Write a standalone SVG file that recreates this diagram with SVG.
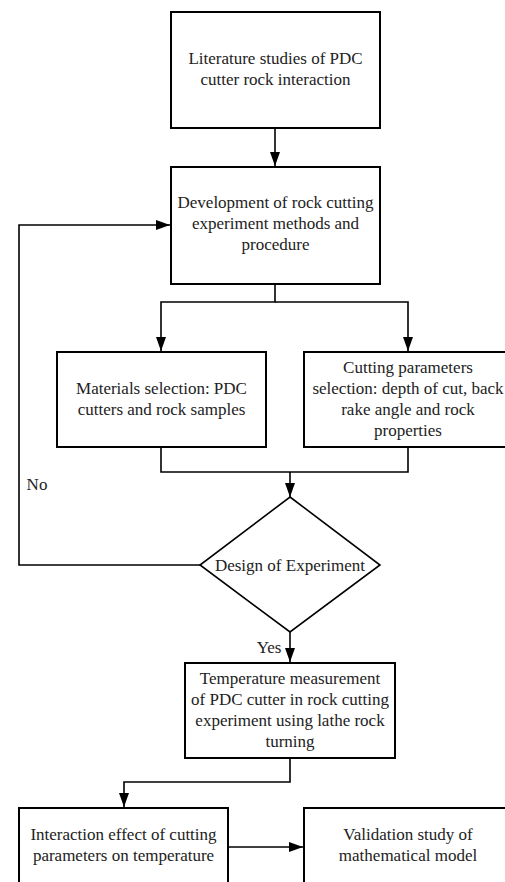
<svg xmlns="http://www.w3.org/2000/svg" width="505" height="882" viewBox="0 0 505 882">
<defs>
<marker id="ah" viewBox="0 0 14 10" markerWidth="14" markerHeight="10" refX="14" refY="5" markerUnits="userSpaceOnUse" orient="auto">
<path d="M0,0 L14,5 L0,10 z" fill="#000"/>
</marker>
<style>
.box{fill:#fff;stroke:#000;stroke-width:2}
.t{font-family:'Liberation Serif','DejaVu Serif',serif;font-size:17px;fill:#222;text-anchor:middle}
.c{fill:none;stroke:#000;stroke-width:1.6}
.ca{fill:none;stroke:#000;stroke-width:1.6;marker-end:url(#ah)}
</style>
</defs>
<rect width="505" height="882" fill="#fff"/>
<g id="connectors">
<path class="ca" d="M275,128 V166"/>
<path class="ca" d="M200,565 H19 V225 H170"/>
<path class="ca" d="M275,284 V302 H161 V351"/>
<path class="ca" d="M275,302 H408 V351"/>
<path class="c" d="M161,447 V472 H408 V447"/>
<path class="ca" d="M290,472 V497"/>
<path class="ca" d="M290,632 V662"/>
<path class="ca" d="M290,758 V782 H124 V807"/>
<path class="ca" d="M228,847 H303"/>
<text class="t" x="37" y="490">No</text>
<text class="t" x="269" y="653">Yes</text>
</g>
<g id="n1">
<rect class="box" x="171" y="12" width="209" height="116"/>
<text class="t" x="275.5" y="63.5">Literature studies of PDC</text>
<text class="t" x="275.5" y="84.5">cutter rock interaction</text>
</g>
<g id="n2">
<rect class="box" x="171" y="167" width="209" height="117"/>
<text class="t" x="275.5" y="207.5">Development of rock cutting</text>
<text class="t" x="275.5" y="228.5">experiment methods and</text>
<text class="t" x="275.5" y="249.5">procedure</text>
</g>
<g id="n3">
<rect class="box" x="57" y="352" width="209" height="95"/>
<text class="t" x="161.5" y="393.5">Materials selection: PDC</text>
<text class="t" x="161.5" y="414.5">cutters and rock samples</text>
</g>
<g id="n4">
<rect class="box" x="304" y="352" width="215" height="95"/>
<text class="t" x="408" y="372.5">Cutting parameters</text>
<text class="t" x="408" y="393.5">selection: depth of cut, back</text>
<text class="t" x="408" y="414.5">rake angle and rock</text>
<text class="t" x="408" y="435.5">properties</text>
</g>
<g id="n5">
<path d="M290,497 L380,565 L290,632 L200,565 Z" fill="#fff" stroke="#000" stroke-width="1.6"/>
<text class="t" x="290" y="570.5">Design of Experiment</text>
</g>
<g id="n6">
<rect class="box" x="185" y="663" width="210" height="95"/>
<text class="t" x="290" y="683.5">Temperature measurement</text>
<text class="t" x="290" y="704.5">of PDC cutter in rock cutting</text>
<text class="t" x="290" y="725.5">experiment using lathe rock</text>
<text class="t" x="290" y="746.5">turning</text>
</g>
<g id="n7">
<rect class="box" x="19" y="808" width="209" height="95"/>
<text class="t" x="123.5" y="839.5">Interaction effect of cutting</text>
<text class="t" x="123.5" y="860.5">parameters on temperature</text>
</g>
<g id="n8">
<rect class="box" x="304" y="808" width="215" height="95"/>
<text class="t" x="408" y="839.5">Validation study of</text>
<text class="t" x="408" y="860.5">mathematical model</text>
</g>
</svg>
